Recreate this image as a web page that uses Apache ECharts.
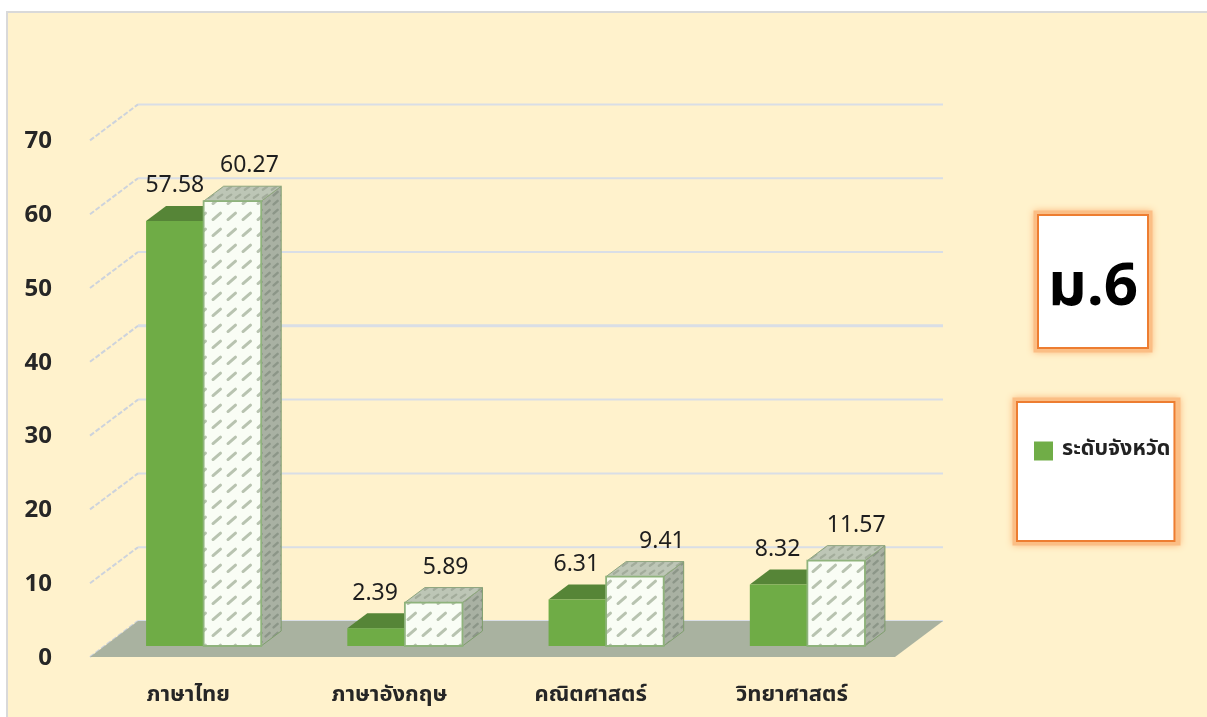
<!DOCTYPE html>
<html><head><meta charset="utf-8">
<style>html,body{margin:0;padding:0;background:#fff}#c{width:1207px;height:717px}</style>
<script src="https://cdn.jsdelivr.net/npm/echarts@6/dist/echarts.min.js"></script>
</head><body><div id="c"></div>
<script>
const subjects = ['ภาษาไทย','ภาษาอังกฤษ','คณิตศาสตร์','วิทยาศาสตร์'];
const provinceValues = [57.58, 2.39, 6.31, 8.32];
const schoolValues = [60.27, 5.89, 9.41, 11.57];
const yTicks = [0,10,20,30,40,50,60,70];
const legendName = 'ระดับจังหวัด';
const badgeText = 'ม.6';

// layout of the pseudo-3D look (pixels)
const WALL = {dx:48, dy:-36};
const BAR = {frontX:13, frontY:-11, dx:20, dy:-15, widthShare:0.286};
const provinceLabelShift = [0,-1,-1,-1];
const schoolLabelShift = [17,12,27,20];
const FONT = '"Noto Sans Thai","Noto Sans","Open Sans",sans-serif';

function hatch(bg, ink, w, h, lw){
  const c=document.createElement('canvas');c.width=w;c.height=h;
  const g=c.getContext('2d');g.fillStyle=bg;g.fillRect(0,0,w,h);
  g.strokeStyle=ink;g.lineWidth=lw;g.lineCap='round';
  g.beginPath();g.moveTo(w*0.2,h*0.72);g.lineTo(w*0.7,h*0.32);g.stroke();
  return {image:c,repeat:'repeat'};
}
const frontPattern=hatch('#F9FDF5','#B8C3B0',15,16,3);
const sidePattern=hatch('#A9B1A3','#8C9688',8,9,2.4);
const topPattern=hatch('#BDC6B6','#A2AC9B',9,8,2.2);

function poly(points,style){return {type:'polygon',shape:{points},style};}

function barRender(seriesIdx){
  const shifts=seriesIdx===0?provinceLabelShift:schoolLabelShift;
  return function(params,api){
    const i=api.value(0),v=api.value(1);
    const [cx,yTop]=api.coord([i,v]);
    const [,y0]=api.coord([i,0]);
    const w=api.size([1,0])[0]*BAR.widthShare;
    const x1=cx+BAR.frontX+(seriesIdx===0?-w:0),x2=x1+w;
    const b=y0+BAR.frontY,t=yTop+BAR.frontY;
    const dx=BAR.dx,dy=BAR.dy;
    const kids=[];
    if(seriesIdx===0){
      kids.push(poly([[x2,b],[x2+dx,b+dy],[x2+dx,t+dy],[x2,t]],{fill:'#4F7A32'}));
      kids.push(poly([[x1,t],[x2,t],[x2+dx,t+dy],[x1+dx,t+dy]],{fill:'#568537'}));
      kids.push(poly([[x1,b],[x2,b],[x2,t],[x1,t]],{fill:'#6FAC46'}));
    }else{
      kids.push(poly([[x2,b],[x2+dx,b+dy],[x2+dx,t+dy],[x2,t]],{fill:sidePattern,stroke:'#7F9E6E',lineWidth:1}));
      kids.push(poly([[x1,t],[x2,t],[x2+dx,t+dy],[x1+dx,t+dy]],{fill:topPattern,stroke:'#8FA67F',lineWidth:1}));
      kids.push(poly([[x1,b],[x2,b],[x2,t],[x1,t]],{fill:frontPattern,stroke:'#8FB37C',lineWidth:1.8}));
    }
    kids.push({type:'text',style:{text:v.toFixed(2),x:(x1+x2)/2+shifts[i],y:t-22,align:'center',verticalAlign:'bottom',
      font:'23px '+FONT,fill:'#1e1e1e'},z2:10});
    return {type:'group',children:kids};
  };
}

function glow(x,y,w,h){
  return {type:'rect',z:5,silent:true,shape:{x,y,width:w,height:h},
    style:{fill:'#fff',stroke:'#FBBE85',lineWidth:9,shadowBlur:7,shadowColor:'#FBBE85'}};
}

const option={
  animation:false,
  backgroundColor:'#fff',
  graphic:[
    {type:'rect',z:-10,shape:{x:7,y:12,width:1300,height:800},style:{fill:'#FFF2CC',stroke:'#D9D9D9',lineWidth:2}},
    glow(1038,215,110,133),
    glow(1017,402,159,139)
  ],
  grid:{left:90,width:805,top:140.4,height:516.6,containLabel:false},
  xAxis:{type:'category',data:subjects,axisLine:{show:false},axisTick:{show:false},
    axisLabel:{margin:29,color:'#262626',fontWeight:'bold',fontSize:22,fontFamily:FONT,padding:[0,5,0,0]}},
  yAxis:{type:'value',min:0,max:70,interval:10,axisLine:{show:false},axisTick:{show:false},splitLine:{show:false},
    axisLabel:{margin:38,color:'#262626',fontWeight:'bold',fontSize:24,fontFamily:FONT,verticalAlign:'top',lineHeight:6}},
  title:{text:badgeText,left:1038,top:215,padding:[42,10,19,10],z:7,
    backgroundColor:'#fff',borderColor:'#ED7D31',borderWidth:2,
    textStyle:{fontSize:60,fontWeight:'bold',color:'#000',fontFamily:FONT,lineHeight:72}},
  legend:{data:[legendName],left:1017,top:402,orient:'vertical',icon:'rect',itemWidth:19,itemHeight:19,itemGap:0,z:7,
    padding:[38,4,79,17],backgroundColor:'#fff',borderColor:'#ED7D31',borderWidth:2,borderRadius:0,
    textStyle:{fontSize:21.5,fontWeight:'bold',color:'#222',fontFamily:FONT,padding:[0,0,4,4]}},
  series:[
    {type:'custom',name:'gridlines',z:1,silent:true,data:yTicks.map(v=>[0,v]),
     renderItem(p,api){
       const y=api.coord([0,api.value(1)])[1];
       const cs=p.coordSys;
       const x0=cs.x,x1=cs.x+cs.width;
       const lw=api.value(1)===40?3:2;
       return {type:'group',children:[
         {type:'line',shape:{x1:x0,y1:y,x2:x0+WALL.dx,y2:y+WALL.dy},style:{stroke:'#CDD3DC',lineWidth:2,lineDash:[5,2]}},
         {type:'line',shape:{x1:x0+WALL.dx,y1:y+WALL.dy,x2:x1+WALL.dx,y2:y+WALL.dy},style:{stroke:'#D9DEE6',lineWidth:lw}}
       ]};
     }},
    {type:'custom',name:'floor',z:2,silent:true,data:[[0,0]],
     renderItem(p,api){
       const y=api.coord([0,0])[1];const cs=p.coordSys;const x0=cs.x,x1=cs.x+cs.width;
       return poly([[x0,y],[x1,y],[x1+WALL.dx,y+WALL.dy],[x0+WALL.dx,y+WALL.dy]],{fill:'#A9B2A0'});
     }},
    {type:'custom',name:legendName,z:3,silent:true,itemStyle:{color:'#70AD47'},
     data:provinceValues.map((v,i)=>[i,v]),encode:{x:0,y:1},renderItem:barRender(0)},
    {type:'custom',name:'school',z:4,silent:true,itemStyle:{color:'#FBFEF8'},
     data:schoolValues.map((v,i)=>[i,v]),encode:{x:0,y:1},renderItem:barRender(1)}
  ]
};
const chart=echarts.init(document.getElementById('c'),null,{renderer:'canvas'});
chart.setOption(option);
</script></body></html>
